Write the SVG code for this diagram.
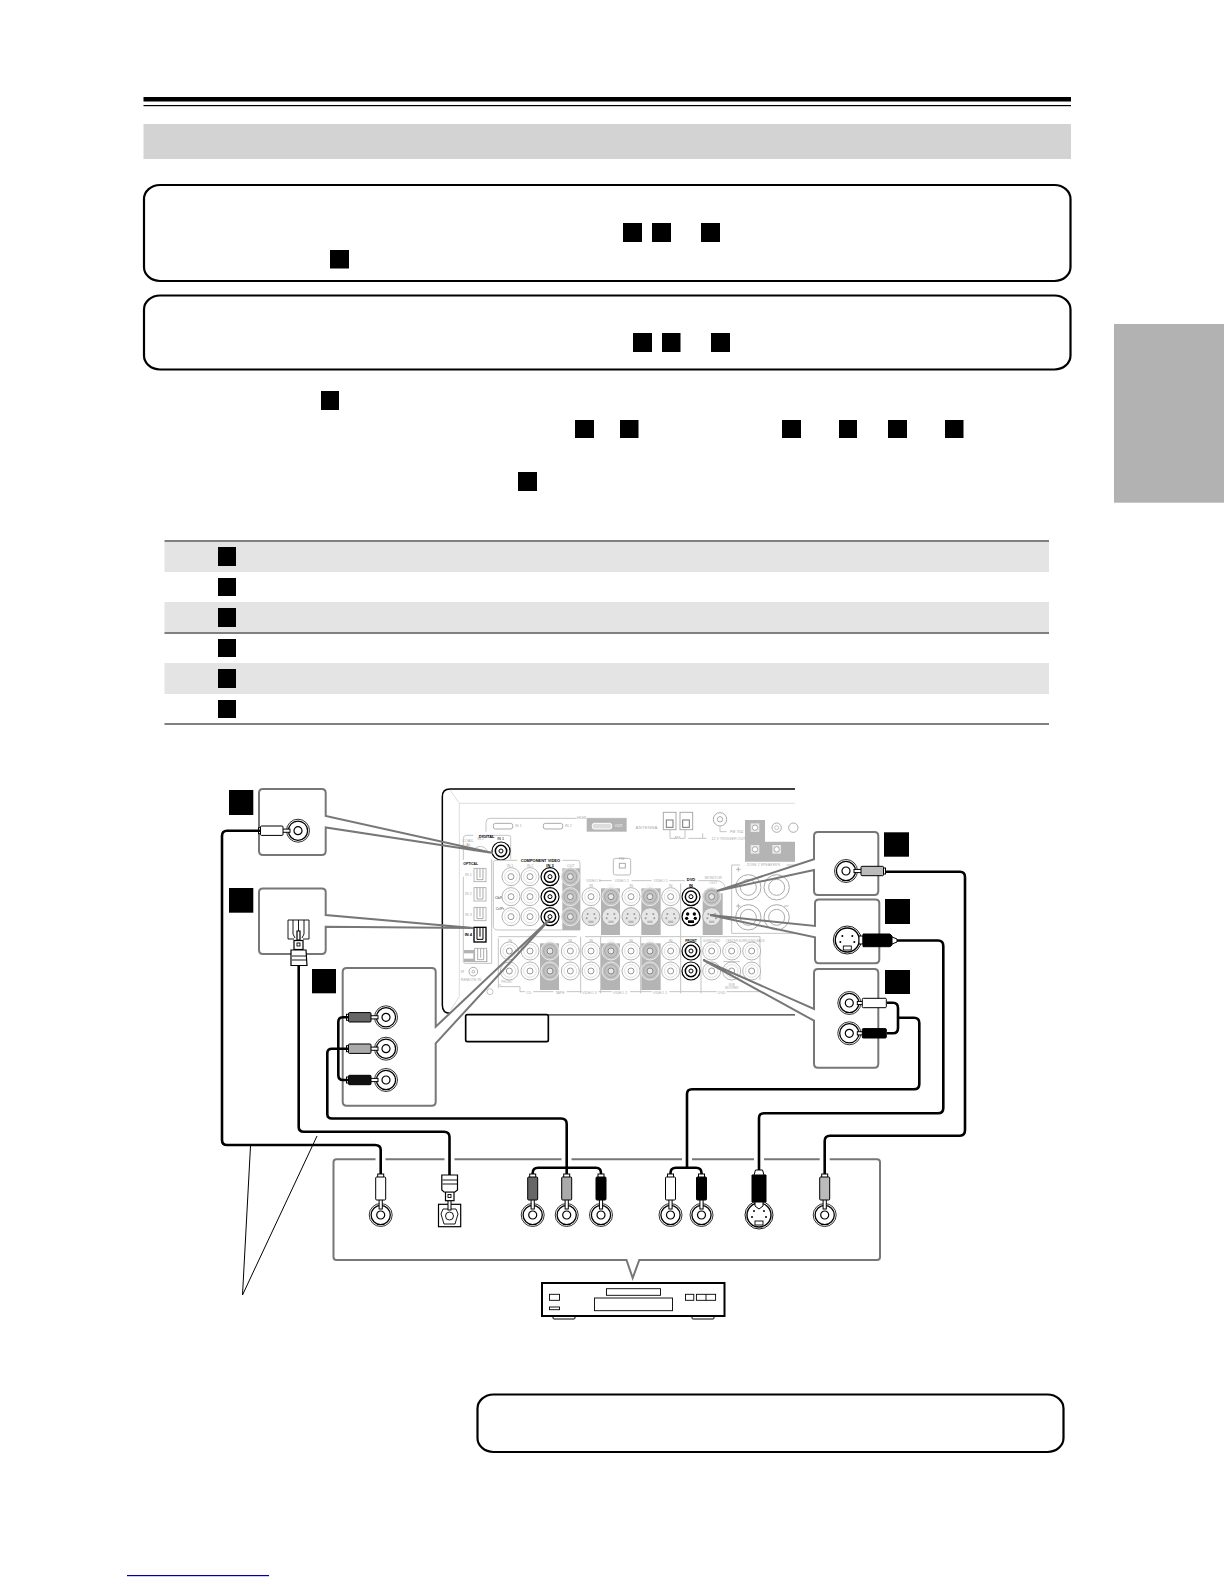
<svg xmlns="http://www.w3.org/2000/svg" xmlns:xlink="http://www.w3.org/1999/xlink" width="1224" height="1584" viewBox="0 0 1224 1584">
<style>
.sq{fill:#000}
.rb{fill:#fff;stroke:#000;stroke-width:2.2}
.tr{fill:#e4e4e4}
.tl{fill:#808080}
.call{fill:none;stroke:#777;stroke-width:2}
.w{fill:none;stroke:#000;stroke-width:2.6;stroke-linejoin:round}
.p{stroke:#000;stroke-width:1}
.o{fill:#fff;stroke:#000;stroke-width:1.2}
.n{fill:none;stroke:#000;stroke-width:.9}
.f{fill:none;stroke:#c4c4c4;stroke-width:3}
.bar{fill:#b4b4b4}
.t{font-family:"Liberation Sans",Arial,sans-serif;font-size:11px;fill:#aaa;text-anchor:middle}
.b{font-weight:bold;fill:#000;font-size:12px}
</style>
<defs>
<g id="jack"><circle r="11.5" fill="#fff" stroke="#000" stroke-width="0.8"/><circle r="9.6" fill="#fff" stroke="#000" stroke-width="1.3"/><circle r="4" fill="#fff" stroke="#000" stroke-width="1.2"/></g>
<g id="plugV"><rect x="-1.6" y="-16" width="3.2" height="10" fill="#fff" stroke="#000"/><rect x="-3" y="-41" width="6" height="4" fill="#fff" stroke="#000"/><rect class="p" x="-5" y="-38" width="10" height="23" rx="1"/></g>
<g id="plugR"><rect x="8" y="-1.6" width="9" height="3.2" fill="#fff" stroke="#000"/><rect x="36" y="-3" width="3.5" height="6" fill="#fff" stroke="#000"/><rect class="p" x="15" y="-4.7" width="22.5" height="9.4" rx="1"/></g>
<g id="plugL"><use xlink:href="#plugR" href="#plugR" transform="scale(-1,1)"/></g>
<g id="svideo"><circle r="14" fill="#fff" stroke="#000" stroke-width="0.9"/><circle r="12" fill="#fff" stroke="#000" stroke-width="1.4"/><circle cx="-5" cy="-4" r="1" fill="#000"/><circle cx="5" cy="-4" r="1" fill="#000"/><circle cx="-7" cy="2" r="1" fill="#000"/><circle cx="7" cy="2" r="1" fill="#000"/><rect x="-4" y="6" width="8" height="4" class="n"/></g>
<g id="pj"><circle r="27" fill="#fff" stroke="#b4b4b4" stroke-width="3"/><circle r="19" fill="none" stroke="#d0d0d0" stroke-width="2"/><circle r="9" fill="#fff" stroke="#999" stroke-width="3"/></g>
<g id="pb"><circle r="27" fill="#c4c4c4" stroke="#e8e8e8" stroke-width="3"/><circle r="19" fill="none" stroke="#999" stroke-width="2"/><circle r="9" fill="#e8e8e8" stroke="#888" stroke-width="3"/></g>
<g id="pk"><circle r="27" fill="#fff" stroke="#000" stroke-width="3.5"/><circle r="17" fill="#fff" stroke="#000" stroke-width="4.5"/><circle r="6" fill="#fff" stroke="#000" stroke-width="3"/></g>
<g id="ps"><circle r="27" fill="#e6e6e6" stroke="#aaa" stroke-width="3"/><circle cx="-10" cy="-8" r="3" fill="#999"/><circle cx="10" cy="-8" r="3" fill="#999"/><circle cx="-13" cy="5" r="3" fill="#999"/><circle cx="13" cy="5" r="3" fill="#999"/><rect x="-8" y="12" width="16" height="7" fill="#bbb"/></g>
<g id="pop"><rect x="-18" y="-20" width="36" height="40" fill="#fff" stroke="#aaa" stroke-width="2.5"/><path d="M-9-20V14H9V-20M0-20V8" fill="none" stroke="#999" stroke-width="2.5"/></g>
</defs>
<rect width="1224" height="1584" fill="#fff"/>

<g id="page">
<rect x="143.5" y="97" width="927.5" height="4.5" fill="#000"/>
<rect x="143.5" y="105" width="927.5" height="1.2" fill="#000"/>
<rect x="143.5" y="124" width="927.5" height="35" fill="#d3d3d3"/>
<rect x="1114" y="324" width="110" height="178.7" fill="#b2b2b2"/>
<rect class="rb" x="144" y="185" width="926.5" height="96" rx="16" ry="14"/>
<rect class="rb" x="144" y="295.5" width="926.5" height="74" rx="16" ry="14"/>
<rect class="rb" x="477.5" y="1394.5" width="586" height="57.5" rx="16" ry="14"/>
<rect x="127" y="1575" width="142" height="1.2" fill="#0000a8"/>
<g class="sq">
<rect x="623" y="223" width="19" height="19"/><rect x="652" y="223" width="19" height="19"/><rect x="701" y="223" width="19" height="19"/>
<rect x="330" y="250" width="19" height="18.5"/>
<rect x="633" y="333" width="19" height="19"/><rect x="662" y="333" width="18.5" height="19"/><rect x="711" y="333" width="19" height="19"/>
<rect x="321" y="391" width="18" height="19"/>
<rect x="575" y="420" width="19" height="18"/><rect x="620" y="420" width="18.5" height="18"/><rect x="782" y="420" width="19" height="18"/><rect x="839" y="420" width="18" height="18"/><rect x="888" y="420" width="19" height="18"/><rect x="945" y="420" width="18.5" height="18"/>
<rect x="518" y="472" width="19" height="19"/>
</g>
</g>

<g id="table">
<rect class="tr" x="164.5" y="542" width="884.5" height="30"/>
<rect class="tr" x="164.5" y="602" width="884.5" height="30"/>
<rect class="tr" x="164.5" y="663" width="884.5" height="31"/>
<rect class="tl" x="164.5" y="540" width="884.5" height="2"/>
<rect class="tl" x="164.5" y="632" width="884.5" height="2"/>
<rect class="tl" x="164.5" y="723" width="884.5" height="2"/>
<g class="sq">
<rect x="218" y="547" width="18" height="19"/><rect x="218" y="578" width="18" height="18"/><rect x="218" y="608" width="18" height="19"/><rect x="218" y="639" width="18" height="18"/><rect x="218" y="669" width="18" height="19"/><rect x="218" y="700" width="18" height="18"/>
</g>
</g>

<g id="rear-panel" transform="translate(430,780) scale(0.33333)">
<path d="M1095 27H60Q37 27 37 50V675Q37 700 60 700" fill="none" stroke="#000" stroke-width="4.5"/>
<path d="M60 30L88 70H1095M62 690L88 650V70" fill="none" stroke="#ddd" stroke-width="3"/>
<rect x="355" y="702" width="740" height="5" fill="#666"/>
<rect x="107" y="704" width="248" height="81" rx="5" fill="#fff" stroke="#000" stroke-width="5"/>
<path class="f" d="M440 115H180Q168 115 168 127V155M470 115H590"/>
<rect x="470" y="115" width="120" height="40" class="bar"/>
<rect x="190" y="130" width="58" height="17" rx="6" fill="#fff" stroke="#aaa" stroke-width="3"/>
<rect x="340" y="130" width="58" height="17" rx="6" fill="#fff" stroke="#aaa" stroke-width="3"/>
<rect x="487" y="130" width="58" height="17" rx="6" fill="#ddd" stroke="#fff" stroke-width="3"/>
<text class="t" x="455" y="118">HDMI</text><text class="t" x="265" y="142">IN 1</text><text class="t" x="415" y="142">IN 2</text><text class="t" x="566" y="142" style="fill:#fff">OUT</text>
<text class="t" x="650" y="147" style="font-size:13px;letter-spacing:.6px">ANTENNA</text>
<rect x="700" y="97" width="38" height="52" fill="#fff" stroke="#aaa" stroke-width="3"/><rect x="750" y="97" width="38" height="52" fill="#fff" stroke="#aaa" stroke-width="3"/>
<rect x="709" y="120" width="20" height="22" fill="#fff" stroke="#777" stroke-width="3"/><rect x="758" y="120" width="20" height="22" fill="#fff" stroke="#777" stroke-width="3"/>
<path d="M720 149V175H735M765 149V175H750M775 175H810M818 160V175M808 175H830" class="f"/>
<text class="t" x="742" y="178">AM</text>
<circle cx="870" cy="118" r="20" fill="#fff" stroke="#aaa" stroke-width="3"/><circle cx="870" cy="118" r="8" fill="#fff" stroke="#aaa" stroke-width="3"/><path d="M870 138V155H890" class="f"/>
<text class="t" x="920" y="158">FM 75Ω</text><text class="t" x="895" y="180">12 V TRIGGER OUT</text>
<path class="bar" d="M945 120H1005V185H1095V245H945Z"/>
<rect x="962" y="130" width="26" height="26" fill="#e8e8e8"/><circle cx="975" cy="143" r="8" fill="#fff" stroke="#888" stroke-width="2"/>
<circle cx="1040" cy="143" r="14" fill="#fff" stroke="#aaa" stroke-width="3"/><circle cx="1040" cy="143" r="6" fill="#fff" stroke="#aaa" stroke-width="2"/><circle cx="1090" cy="143" r="14" fill="#fff" stroke="#aaa" stroke-width="3"/>
<rect x="962" y="195" width="26" height="26" fill="#e8e8e8"/><circle cx="975" cy="208" r="8" fill="#fff" stroke="#888" stroke-width="2"/>
<rect x="1027" y="195" width="26" height="26" fill="#e8e8e8"/><circle cx="1040" cy="208" r="8" fill="#fff" stroke="#888" stroke-width="2"/>
<path class="f" d="M150 166H235Q242 166 242 172V238M100 290V545Q100 550 106 550H185V238M100 240V175Q100 166 110 166H130"/>
<text class="t b" x="170" y="173">DIGITAL</text><text class="t" x="115" y="185">COAX-</text><text class="t" x="115" y="197">IAL</text><text class="t" x="152" y="181">IN 2</text><text class="t" x="212" y="181" style="fill:#000">IN 1</text>
<path d="M130 215A22 22 0 0 1 172 215" class="f"/>
<use xlink:href="#pk" href="#pk" x="213" y="213"/>
<text class="t b" x="122" y="255" style="font-size:10px">OPTICAL</text>
<text class="t" x="115" y="287">IN 1</text><text class="t" x="115" y="346">IN 2</text><text class="t" x="115" y="407">IN 3</text><text class="t b" x="115" y="469">IN 4</text>
<use xlink:href="#pop" href="#pop" x="150" y="285"/><use xlink:href="#pop" href="#pop" x="150" y="343"/><use xlink:href="#pop" href="#pop" x="150" y="402"/>
<rect x="132" y="442" width="36" height="44" fill="#fff" stroke="#000" stroke-width="4"/><path d="M141 442V478H159V442M150 442V470" fill="none" stroke="#000" stroke-width="3"/>
<rect x="102" y="510" width="70" height="36" class="bar"/><rect x="102" y="520" width="28" height="16" fill="#fff"/><use xlink:href="#pop" href="#pop" x="152" y="525"/>
<circle cx="130" cy="575" r="13" fill="#fff" stroke="#aaa" stroke-width="3"/><circle cx="130" cy="575" r="4" fill="none" stroke="#999" stroke-width="2"/>
<text class="t" x="97" y="579">IR</text><text class="t" x="123" y="604">REMOTE IN</text>
<path class="f" d="M190 260V248Q190 241 198 241H262M398 241H442Q450 241 450 249V450H204Q190 450 190 436V260"/>
<text class="t b" x="331" y="246">COMPONENT VIDEO</text>
<text class="t" x="240" y="262">IN 1</text><text class="t" x="300" y="262">IN 2</text><text class="t b" x="360" y="262">IN 3</text>
<text class="t" x="210" y="356" style="fill:#333">Cb/Pb</text><text class="t" x="210" y="389" style="fill:#333">Cr/Pr</text>
<rect x="397" y="265" width="53" height="185" class="bar"/><text class="t" x="422" y="261">OUT</text>
<use xlink:href="#pj" href="#pj" x="243" y="290"/><use xlink:href="#pj" href="#pj" x="300" y="290"/><use xlink:href="#pk" href="#pk" x="360" y="290"/><use xlink:href="#pb" href="#pb" x="421" y="290"/>
<use xlink:href="#pj" href="#pj" x="243" y="350"/><use xlink:href="#pj" href="#pj" x="300" y="350"/><use xlink:href="#pk" href="#pk" x="360" y="350"/><use xlink:href="#pb" href="#pb" x="421" y="350"/>
<use xlink:href="#pj" href="#pj" x="243" y="410"/><use xlink:href="#pj" href="#pj" x="300" y="410"/><use xlink:href="#pk" href="#pk" x="360" y="410"/><use xlink:href="#pb" href="#pb" x="421" y="410"/>
<rect x="550" y="235" width="52" height="50" rx="6" fill="#fff" stroke="#bbb" stroke-width="3"/><rect x="568" y="250" width="18" height="14" fill="none" stroke="#aaa" stroke-width="3"/><text class="t" x="575" y="239">FM</text>
<rect x="513" y="325" width="57" height="140" class="bar"/><rect x="634" y="325" width="58" height="140" class="bar"/><rect x="818" y="340" width="60" height="125" class="bar"/>
<path class="f" d="M508 302H545M605 302H665M718 302H765M805 302H860Q878 302 885 320"/>
<text class="t" x="490" y="306">VIDEO 3</text><text class="t" x="575" y="306">VIDEO 2</text><text class="t" x="692" y="306">VIDEO 1</text><text class="t b" x="783" y="304">DVD</text>
<text class="t" x="483" y="322">IN</text><text class="t" x="543" y="322" style="fill:#eee">OUT</text><text class="t" x="603" y="322">IN</text><text class="t" x="660" y="322" style="fill:#eee">OUT</text><text class="t" x="722" y="322">IN</text><text class="t b" x="783" y="322">IN</text>
<text class="t" x="850" y="298">MONITOR</text><text class="t" x="850" y="312">OUT</text>
<use xlink:href="#pj" href="#pj" x="483" y="350"/><use xlink:href="#pb" href="#pb" x="543" y="350"/><use xlink:href="#pj" href="#pj" x="603" y="350"/><use xlink:href="#pb" href="#pb" x="660" y="350"/><use xlink:href="#pj" href="#pj" x="722" y="350"/><use xlink:href="#pk" href="#pk" x="783" y="350"/><use xlink:href="#pb" href="#pb" x="845" y="350"/>
<use xlink:href="#ps" href="#ps" x="483" y="410"/><use xlink:href="#ps" href="#ps" x="543" y="410"/><use xlink:href="#ps" href="#ps" x="603" y="410"/><use xlink:href="#ps" href="#ps" x="660" y="410"/><use xlink:href="#ps" href="#ps" x="722" y="410"/>
<g transform="translate(783,410)"><circle r="27" fill="#fff" stroke="#000" stroke-width="4"/><circle cx="-10" cy="-8" r="5" fill="#000"/><circle cx="10" cy="-8" r="5" fill="#000"/><circle cx="-13" cy="5" r="5" fill="#000"/><circle cx="13" cy="5" r="5" fill="#000"/><rect x="-9" y="11" width="18" height="8" fill="#000"/></g>
<use xlink:href="#ps" href="#ps" x="845" y="410"/>
<path class="f" d="M752 310V640M813 470V640M905 255H930M1070 255H1095M905 255V460H1095M205 475V625M452 470V640M512 470V640M632 470V640M880 545H930"/>
<text class="t" x="1000" y="259" style="font-size:10px;letter-spacing:.5px">ZONE 2 SPEAKERS</text>
<g fill="#fff" stroke="#aaa" stroke-width="3"><circle cx="955" cy="322" r="38"/><circle cx="1040" cy="322" r="38"/><circle cx="955" cy="412" r="38"/><circle cx="1040" cy="412" r="38"/><circle cx="955" cy="322" r="24"/><circle cx="1040" cy="322" r="24"/><circle cx="955" cy="412" r="24"/><circle cx="1040" cy="412" r="24"/></g>
<path d="M918 268H932M925 261V275M918 378H932M925 371V385M1062 378H1076" fill="none" stroke="#999" stroke-width="2"/>
<rect x="330" y="490" width="57" height="140" class="bar"/><rect x="513" y="490" width="57" height="140" class="bar"/><rect x="634" y="490" width="58" height="140" class="bar"/>
<path class="f" d="M205 470H440M465 470H990V600"/>
<text class="t" x="240" y="486">IN</text><text class="t" x="360" y="486" style="fill:#eee">OUT</text><text class="t" x="420" y="486">IN</text><text class="t" x="483" y="486">IN</text><text class="t" x="543" y="486" style="fill:#eee">OUT</text><text class="t" x="603" y="486">IN</text><text class="t" x="660" y="486" style="fill:#eee">OUT</text><text class="t" x="722" y="486">IN</text><text class="t b" x="783" y="486" style="font-size:10px">FRONT</text>
<text class="t" x="845" y="486" style="font-size:9px">SURROUND</text><text class="t" x="905" y="486" style="font-size:9px">CENTER</text><text class="t" x="965" y="486" style="font-size:9px">SURROUND BACK</text>
<g>
<use xlink:href="#pj" href="#pj" x="238" y="513"/><use xlink:href="#pj" href="#pj" x="300" y="513"/><use xlink:href="#pb" href="#pb" x="360" y="513"/><use xlink:href="#pj" href="#pj" x="421" y="513"/><use xlink:href="#pj" href="#pj" x="483" y="513"/><use xlink:href="#pb" href="#pb" x="543" y="513"/><use xlink:href="#pj" href="#pj" x="603" y="513"/><use xlink:href="#pb" href="#pb" x="660" y="513"/><use xlink:href="#pj" href="#pj" x="722" y="513"/><use xlink:href="#pk" href="#pk" x="783" y="513"/><use xlink:href="#pj" href="#pj" x="845" y="513"/><use xlink:href="#pj" href="#pj" x="905" y="513"/><use xlink:href="#pj" href="#pj" x="965" y="513"/>
<use xlink:href="#pj" href="#pj" x="238" y="573"/><use xlink:href="#pj" href="#pj" x="300" y="573"/><use xlink:href="#pb" href="#pb" x="360" y="573"/><use xlink:href="#pj" href="#pj" x="421" y="573"/><use xlink:href="#pj" href="#pj" x="483" y="573"/><use xlink:href="#pb" href="#pb" x="543" y="573"/><use xlink:href="#pj" href="#pj" x="603" y="573"/><use xlink:href="#pb" href="#pb" x="660" y="573"/><use xlink:href="#pj" href="#pj" x="722" y="573"/><use xlink:href="#pk" href="#pk" x="783" y="573"/><use xlink:href="#pj" href="#pj" x="845" y="573"/><use xlink:href="#pj" href="#pj" x="905" y="573"/><use xlink:href="#pj" href="#pj" x="965" y="573"/>
</g>
<text class="t" x="905" y="618" style="font-size:9px">SUB</text><text class="t" x="905" y="628" style="font-size:9px">WOOFER</text>
<text class="t" x="230" y="610" style="font-size:9px">PHONO</text>
<circle cx="180" cy="635" r="9" fill="none" stroke="#aaa" stroke-width="2"/>
<path class="f" d="M210 612V620H270V635H285M310 635H370M410 635H455M505 635H545M600 635H665M718 635H860M890 635H990"/>
<text class="t" x="296" y="642">CD</text><text class="t" x="390" y="642">TAPE</text><text class="t" x="478" y="642">VIDEO 3</text><text class="t" x="570" y="642">VIDEO 2</text><text class="t" x="690" y="642">VIDEO 1</text><text class="t" x="875" y="642">DVD</text>
</g>

<g id="callout-coax">
<path class="call" d="M493 853L325.7 816V793Q325.7 789 321.7 789H263Q259 789 259 793V851Q259 855 263 855H321.7Q325.7 855 325.7 851V827.5L493 853"/>
<rect class="sq" x="229" y="790" width="24.3" height="25"/>
<use xlink:href="#jack" href="#jack" x="298" y="830.7"/>
<use xlink:href="#plugL" href="#plugL" x="298" y="830.7" fill="#fff"/>
</g>
<g id="callout-optical">
<path class="call" d="M473 928L325.7 915V892Q325.7 888.5 321.7 888.5H263Q259 888.5 259 892V950Q259 954 263 954H321.7Q325.7 954 325.7 950V926.7L473 928"/>
<rect class="sq" x="229" y="888" width="24.3" height="24.7"/>
<path class="n" d="M303 939H309V920H288V939H294"/>
<path class="n" d="M293 920V934L295 938M304 920V934L302 938M298.5 920V932"/>
<path class="o" d="M297 940V931H300V940Z"/>
<rect class="o" x="294" y="940.5" width="9" height="9"/><rect x="297" y="943" width="3" height="3" class="n"/>
<path class="o" d="M291 950H306L307 965.5H291Z"/><path class="n" d="M292 956H306M292 960H306"/>
</g>
<g id="callout-component">
<path class="call" d="M550 919L435.7 1026.7V972Q435.7 968 431.7 968H346.7Q342.7 968 342.7 972V1101.7Q342.7 1105.7 346.7 1105.7H431.7Q435.7 1105.7 435.7 1101.7V1043.3L550 919"/>
<rect class="sq" x="312" y="969" width="24" height="24.3"/>
<use xlink:href="#jack" href="#jack" x="386" y="1017.3"/><use xlink:href="#jack" href="#jack" x="386" y="1048.7"/><use xlink:href="#jack" href="#jack" x="386" y="1080"/>
<use xlink:href="#plugL" href="#plugL" x="386" y="1017.3" fill="#666"/><use xlink:href="#plugL" href="#plugL" x="386" y="1048.7" fill="#aaa"/><use xlink:href="#plugL" href="#plugL" x="386" y="1080" fill="#111"/>
</g>
<g id="callout-a">
<path class="call" d="M716.7 891L814 859.3V836Q814 832 818 832H874.3Q878.3 832 878.3 836V891Q878.3 895 874.3 895H818Q814 895 814 891V870L716.7 891"/>
<rect class="sq" x="884" y="832.3" width="25" height="24.4"/>
<use xlink:href="#jack" href="#jack" x="846" y="871"/>
<use xlink:href="#plugR" href="#plugR" x="846" y="871" fill="#bbb"/>
</g>
<g id="callout-b">
<path class="call" d="M710 915L815 926V903Q815 899.5 819 899.5H875.3Q879.3 899.5 879.3 903V959.3Q879.3 963.3 875.3 963.3H819Q815 963.3 815 959.3V937.3L710 915"/>
<rect class="sq" x="885" y="899" width="25" height="25"/>
<use xlink:href="#svideo" href="#svideo" x="847.3" y="940"/>
<path class="p" d="M859 936H863V944H859Z" fill="#fff"/>
<path class="p" d="M863 934H890L892 936V945L890 946.7H863Z" fill="#000"/>
<path class="p" d="M892 937L897 939V942L892 944Z" fill="#fff"/>
</g>
<g id="callout-c">
<path class="call" d="M703.3 960L814 1009V973Q814 969 818 969H874.3Q878.3 969 878.3 973V1063.7Q878.3 1067.7 874.3 1067.7H818Q814 1067.7 814 1063.7V1020.7L703.3 960"/>
<rect class="sq" x="885" y="970" width="25" height="24"/>
<use xlink:href="#jack" href="#jack" x="849.3" y="1003"/><use xlink:href="#jack" href="#jack" x="849.3" y="1033.3"/>
<g transform="translate(849.3,1003)"><rect x="8" y="-1.6" width="6" height="3.2" fill="#fff" stroke="#000"/><rect class="p" x="13" y="-4.7" width="24" height="9.4" rx="1" fill="#fff"/></g>
<g transform="translate(849.3,1033.3)"><rect x="8" y="-1.6" width="6" height="3.2" fill="#fff" stroke="#000"/><rect class="p" x="13" y="-4.7" width="24" height="9.4" rx="1" fill="#000"/></g>
</g>

<g id="source-panel">
<path class="call" d="M336.5 1159.3H877Q880 1159.3 880 1162.3V1257Q880 1260 877 1260H639.3L632.7 1278L626.5 1260H336.5Q333.5 1260 333.5 1257V1162.3Q333.5 1159.3 336.5 1159.3Z"/>
<g fill="#fff"><rect x="375.5" y="1157" width="10" height="5"/><rect x="444.5" y="1157" width="10" height="5"/><rect x="561.5" y="1157" width="10" height="5"/><rect x="682" y="1157" width="10" height="5"/><rect x="754" y="1157" width="10" height="5"/><rect x="819.7" y="1157" width="10" height="5"/></g>
</g>

<g id="connectors">
<path class="w" d="M260 830.7H227Q222 830.7 222 836V1140Q222 1145 227 1145H375Q380.7 1145 380.7 1150V1177"/>
<path class="w" d="M298.7 966V1127Q298.7 1131.7 304 1131.7H444Q449.5 1131.7 449.5 1137V1175"/>
<path class="w" d="M348 1017.3H343Q338.3 1017.3 338.3 1022V1075Q338.3 1080 343 1080H348"/>
<path class="w" d="M348 1048.7H332Q327.3 1048.7 327.3 1053V1114Q327.3 1118.5 332 1118.5H561Q566.7 1118.5 566.7 1124V1177"/>
<path class="w" d="M532.7 1177V1173Q532.7 1167.7 538 1167.7H596Q601 1167.7 601 1173V1177"/>
<path class="w" d="M670.5 1177V1173Q670.5 1167.7 676 1167.7H696Q701.5 1167.7 701.5 1173V1177"/>
<path class="w" d="M687 1167.7V1094Q687 1089.3 692 1089.3H914Q919.3 1089.3 919.3 1084V1023Q919.3 1017.7 914 1017.7H898"/>
<path class="w" d="M887 1002.7H893Q898 1002.7 898 1008V1028Q898 1033.3 893 1033.3H887"/>
<path class="w" d="M897 940.5H938Q943.3 940.5 943.3 946V1108Q943.3 1113.3 938 1113.3H764Q759 1113.3 759 1118V1170"/>
<path class="w" d="M886 871.7H960Q965 871.7 965 877V1130Q965 1135.7 960 1135.7H830Q824.7 1135.7 824.7 1141V1177"/>
<path d="M250.5 1146L242.5 1295L317 1136" fill="none" stroke="#000" stroke-width="1"/>
</g>

<g id="source-jacks">
<use xlink:href="#jack" href="#jack" x="380.7" y="1215"/><use xlink:href="#plugV" href="#plugV" x="380.7" y="1215" fill="#fff"/>
<rect class="o" x="438.5" y="1204.3" width="22.2" height="22.4"/>
<path class="n" d="M443 1209H456L458 1214L455 1224H444L441 1214Z"/><circle cx="449.5" cy="1216" r="4" class="n"/>
<rect x="448" y="1198" width="3" height="12" fill="#fff" stroke="#000"/>
<rect class="o" x="445.5" y="1191.7" width="8.5" height="9"/><rect x="448" y="1194.5" width="3" height="3" class="n"/>
<path class="o" d="M441.8 1175H457.5V1190L455 1192H444L441.8 1190Z"/><path class="n" d="M442.5 1180H457M442.5 1184H457"/>
<use xlink:href="#jack" href="#jack" x="532.7" y="1215"/><use xlink:href="#plugV" href="#plugV" x="532.7" y="1215" fill="#666"/>
<use xlink:href="#jack" href="#jack" x="566.7" y="1215"/><use xlink:href="#plugV" href="#plugV" x="566.7" y="1215" fill="#aaa"/>
<use xlink:href="#jack" href="#jack" x="601" y="1215"/><use xlink:href="#plugV" href="#plugV" x="601" y="1215" fill="#000"/>
<use xlink:href="#jack" href="#jack" x="670.5" y="1215"/><use xlink:href="#plugV" href="#plugV" x="670.5" y="1215" fill="#fff"/>
<use xlink:href="#jack" href="#jack" x="701.5" y="1215"/><use xlink:href="#plugV" href="#plugV" x="701.5" y="1215" fill="#000"/>
<use xlink:href="#svideo" href="#svideo" x="759" y="1215"/>
<path class="p" d="M755 1201H763V1206L759 1209L755 1206Z" fill="#fff"/>
<path class="p" d="M752 1175H766V1202H752Z" fill="#000"/>
<path class="p" d="M755.5 1170H762.5L764 1175H754Z" fill="#fff"/>
<use xlink:href="#jack" href="#jack" x="824.7" y="1215"/><use xlink:href="#plugV" href="#plugV" x="824.7" y="1215" fill="#bbb"/>
</g>

<g id="dvd-player">
<rect x="553" y="1315" width="22" height="4" rx="1" fill="#fff" stroke="#000"/><rect x="692" y="1315" width="22" height="4" rx="1" fill="#fff" stroke="#000"/>
<rect x="542" y="1283" width="182.5" height="33" fill="#fff" stroke="#000" stroke-width="2"/>
<g class="n"><rect x="606.5" y="1288.7" width="54" height="6.6"/><rect x="594.5" y="1298" width="78" height="12.7"/><rect x="549.5" y="1294.3" width="10" height="6"/><rect x="549.5" y="1307" width="10" height="2.7"/><rect x="685.5" y="1294.3" width="8.3" height="6"/><rect x="696.4" y="1294.3" width="19.2" height="6"/><path d="M706 1294.3V1300.3"/></g>
</g>
</svg>
